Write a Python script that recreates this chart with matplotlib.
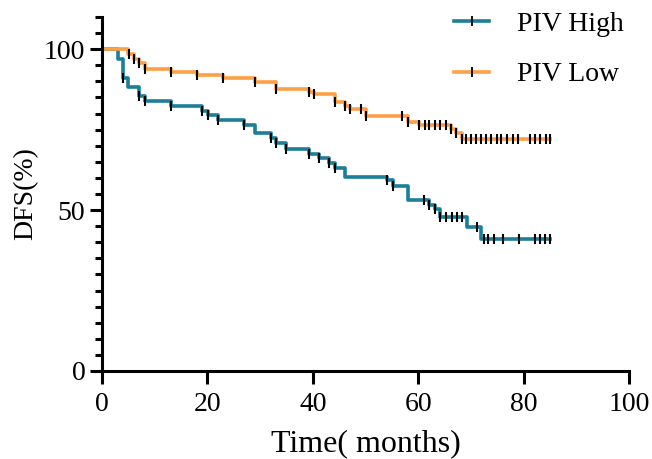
import numpy as np
import matplotlib.pyplot as plt
from matplotlib.lines import Line2D

# DFS curves (Kaplan-Meier style): drop times (months) and survival (%) after each drop
high_t = [3.0, 3.9, 5.0, 7.1, 8.1, 13.1, 19.0, 20.2, 22.1, 26.9, 29.0, 32.0, 33.0,
          35.0, 39.2, 41.1, 43.1, 44.2, 46.1, 54.1, 55.2, 58.1, 62.1, 63.2, 64.1,
          69.2, 72.0]
high_s = [97.1, 91.2, 88.3, 85.5, 83.9, 82.3, 80.8, 79.4, 78.0, 76.3, 73.8, 72.5, 70.9,
          69.1, 67.5, 66.3, 64.7, 63.1, 60.3, 59.3, 57.4, 53.1, 51.7, 50.2, 47.9,
          44.9, 41.1]
high_cens = [4.0, 7.1, 8.1, 13.1, 19.0, 20.2, 22.1, 26.9, 32.0, 33.0, 35.0, 39.2, 41.1,
             43.1, 44.2, 54.1, 55.2, 61.1, 62.1, 63.2, 64.1, 65.3, 66.4, 67.3, 68.3,
             71.2, 72.4, 73.3, 74.3, 76.1, 79.2, 82.2, 83.1, 84.1, 85.1]

low_t = [5.0, 6.1, 7.0, 8.1, 13.1, 18.1, 23.0, 29.1, 33.1, 39.2, 40.2, 44.2, 46.1,
         47.1, 50.1, 58.1, 60.2, 66.2, 67.2, 68.3]
low_s = [98.4, 96.9, 95.6, 93.8, 92.9, 92.0, 90.9, 89.7, 87.7, 86.8, 86.0, 83.6, 82.3,
         81.3, 79.3, 77.5, 76.3, 75.3, 74.0, 72.2]
low_cens = [5.2, 6.1, 7.0, 8.1, 13.1, 18.1, 23.0, 29.1, 33.1, 39.2, 40.2, 44.2, 46.1,
            47.1, 49.1, 50.1, 57.0, 58.1, 60.2, 61.2, 62.1, 63.2, 64.1, 65.2, 66.2,
            67.2, 68.3, 69.1, 70.0, 71.0, 71.9, 72.9, 73.8, 74.9, 75.8, 76.8, 77.9,
            79.0, 81.2, 82.2, 83.1, 84.2, 85.1]

t_end = 85.1
c_high = '#1b7f98'
c_low = '#fd9f45'

plt.rcParams['font.family'] = ['Liberation Serif', 'DejaVu Serif']


def level_at(times, surv, t):
    # survival level at time t (right-continuous step)
    idx = np.searchsorted(times, t, side='right') - 1
    out = np.where(idx >= 0, np.array(surv)[np.clip(idx, 0, None)], 100.0)
    return out


fig = plt.figure(figsize=(6.52, 4.59), dpi=100)
ax = fig.add_axes([102 / 652, 88 / 459, 527 / 652, 354 / 459])

for t, s, cens, col in [(high_t, high_s, high_cens, c_high), (low_t, low_s, low_cens, c_low)]:
    xs = [0] + list(t) + [t_end]
    ys = [100] + list(s) + [s[-1]]
    ax.step(xs, ys, where='post', color=col, lw=2.6, zorder=2)
    ax.plot(cens, level_at(np.array(t), s, np.array(cens)), ls='none', marker='|',
            color='k', ms=7, mew=1.5, zorder=3)

ax.set_xlim(0, 100)
ax.set_ylim(0, 110)
ax.set_xticks([0, 20, 40, 60, 80, 100])
ax.set_yticks([0, 50, 100])
ax.set_yticks(np.arange(0, 111, 5), minor=True)
ax.spines['top'].set_visible(False)
ax.spines['right'].set_visible(False)
for sp in ['left', 'bottom']:
    ax.spines[sp].set_linewidth(2.2)
ax.tick_params(axis='both', which='major', length=9, width=2.2, labelsize=20, pad=3)
ax.tick_params(axis='x', which='major', pad=6)
ax.tick_params(axis='y', which='minor', length=5, width=2.2)
ax.tick_params(axis='x', which='minor', bottom=False)

ax.set_xlabel('Time( months)', fontsize=23, labelpad=9)
ax.set_ylabel('DFS(%)', fontsize=20, labelpad=4)

handles = [Line2D([], [], color=c_high, lw=2.6, marker='|', mec='k', ms=7, mew=1.3),
           Line2D([], [], color=c_low, lw=2.6, marker='|', mec='k', ms=7, mew=1.3)]
fig.legend(handles, ['PIV High', 'PIV Low'], loc='upper left', bbox_to_anchor=(0.697, 0.975),
           frameon=False, fontsize=20, handlelength=1.25, labelspacing=0.9, numpoints=1,
           handletextpad=1.0, borderpad=0, borderaxespad=0)

fig.savefig('out.png', dpi=100)
